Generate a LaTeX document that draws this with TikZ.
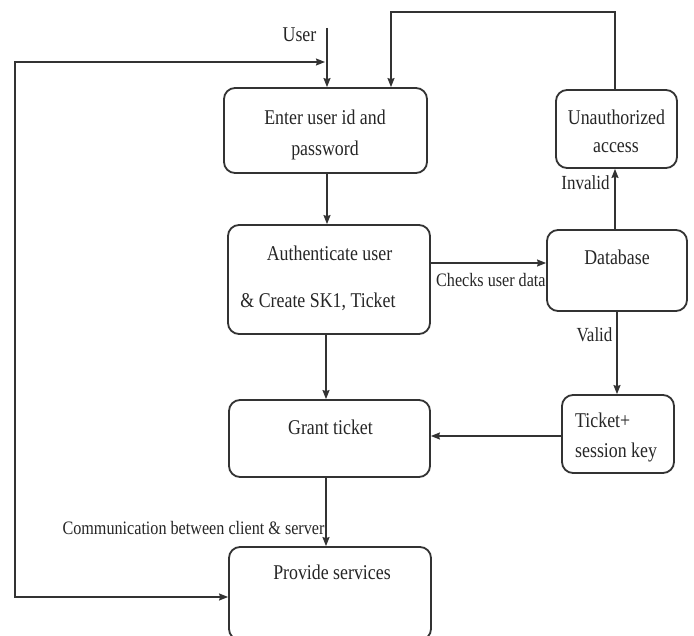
\documentclass[tikz,border=0pt]{standalone}
\usepackage{fontspec}
\setmainfont{Liberation Serif}[FakeStretch=0.85]
\usetikzlibrary{arrows.meta}
\definecolor{linec}{HTML}{333333}
\definecolor{textc}{HTML}{262626}
\begin{document}
\begin{tikzpicture}[x=1pt,y=-1pt,
  box/.style={draw=linec, line width=1.8pt, rounded corners=11pt},
  conn/.style={draw=linec, line width=1.3pt},
  arr/.style={conn, -{Stealth[length=9pt,width=7pt,inset=1pt]}},
  btext/.style={text=textc, font=\fontsize{21}{23}\selectfont, inner sep=0pt},
  ltext/.style={text=textc, font=\fontsize{19}{21}\selectfont, inner sep=0pt}]
\useasboundingbox (0,0) rectangle (694,636);
\clip (0,0) rectangle (694,636);
\fill[white] (0,0) rectangle (694,636);

% boxes
\node[box, minimum width=203pt, minimum height=85pt] (enter) at (325.5,130.5) {};
\node[box, minimum width=202pt, minimum height=109pt] (auth) at (329,279.5) {};
\node[box, minimum width=201pt, minimum height=77pt] (grant) at (329.5,438.5) {};
\node[box, minimum width=202pt, minimum height=93pt] (prov) at (330,593.5) {};
\node[box, minimum width=121pt, minimum height=78pt] (unauth) at (616.5,129) {};
\node[box, minimum width=140pt, minimum height=81pt] (db) at (617,270.5) {};
\node[box, minimum width=112pt, minimum height=78pt] (ticket) at (618,434) {};

% box texts
\node[btext] (t1) at (325,117) {Enter user id and};
\node[btext] (t2) at (325,150) {password};
\node[btext] (t3) at (329.5,253) {Authenticate user};
\node[btext] (t4) at (318,302) {\& Create SK1, Ticket};
\node[btext] (t5) at (330.5,427) {Grant ticket};
\node[btext] (t6) at (332,572) {Provide services};
\node[btext] (t7) at (616.5,117) {Unauthorized};
\node[btext] (t8) at (616,148) {access};
\node[btext] (t9) at (617,257) {Database};
\node[btext, anchor=west] (t10) at (575,420) {Ticket+};
\node[btext, anchor=west] (t11) at (575,452) {session key};

% connectors
\coordinate (userin) at (327,28);
\draw[arr] (userin) -- (userin |- enter.north);
\node[btext] (user) at (299.5,35) {User};

\coordinate (loopend) at (325,62);
\coordinate (loopc1) at (15,62);
\coordinate (loopc2) at (15,597);
\draw[conn, {Stealth[length=9pt,width=7pt,inset=1pt]}-{Stealth[length=9pt,width=7pt,inset=1pt]}]
  (loopend) -- (loopc1) -- (loopc2) -- (loopc2 -| prov.west);

\coordinate (top1) at (615,12);
\coordinate (top2) at (391,12);
\draw[arr] (top1 |- unauth.north) -- (top1) -- (top2) -- (top2 |- enter.north);

\coordinate (col0) at (327,0);
\coordinate (col) at (326,0);
\draw[arr] (col0 |- enter.south) -- (col0 |- auth.north);
\draw[arr] (col |- auth.south) -- (col |- grant.north);
\draw[arr] (col |- grant.south) -- (col |- prov.north);

\coordinate (cy) at (0,263);
\draw[arr] (cy -| auth.east) -- (cy -| db.west);
\coordinate (cx1) at (615,0);
\draw[arr] (cx1 |- db.north) -- (cx1 |- unauth.south);
\draw[arr] (db.south) -- (db.south |- ticket.north);
\coordinate (ty) at (0,436);
\draw[arr] (ty -| ticket.west) -- (ty -| grant.east);

% labels
\node[ltext, anchor=west] (l1) at (436,280) {Checks user data};
\node[btext, font=\fontsize{20}{22}\selectfont] (l2) at (585.5,183) {Invalid};
\node[btext, font=\fontsize{20}{22}\selectfont] (l3) at (594.5,335) {Valid};
\node[ltext] (l4) at (193.5,528) {Communication between client \& server};
\end{tikzpicture}
\end{document}
